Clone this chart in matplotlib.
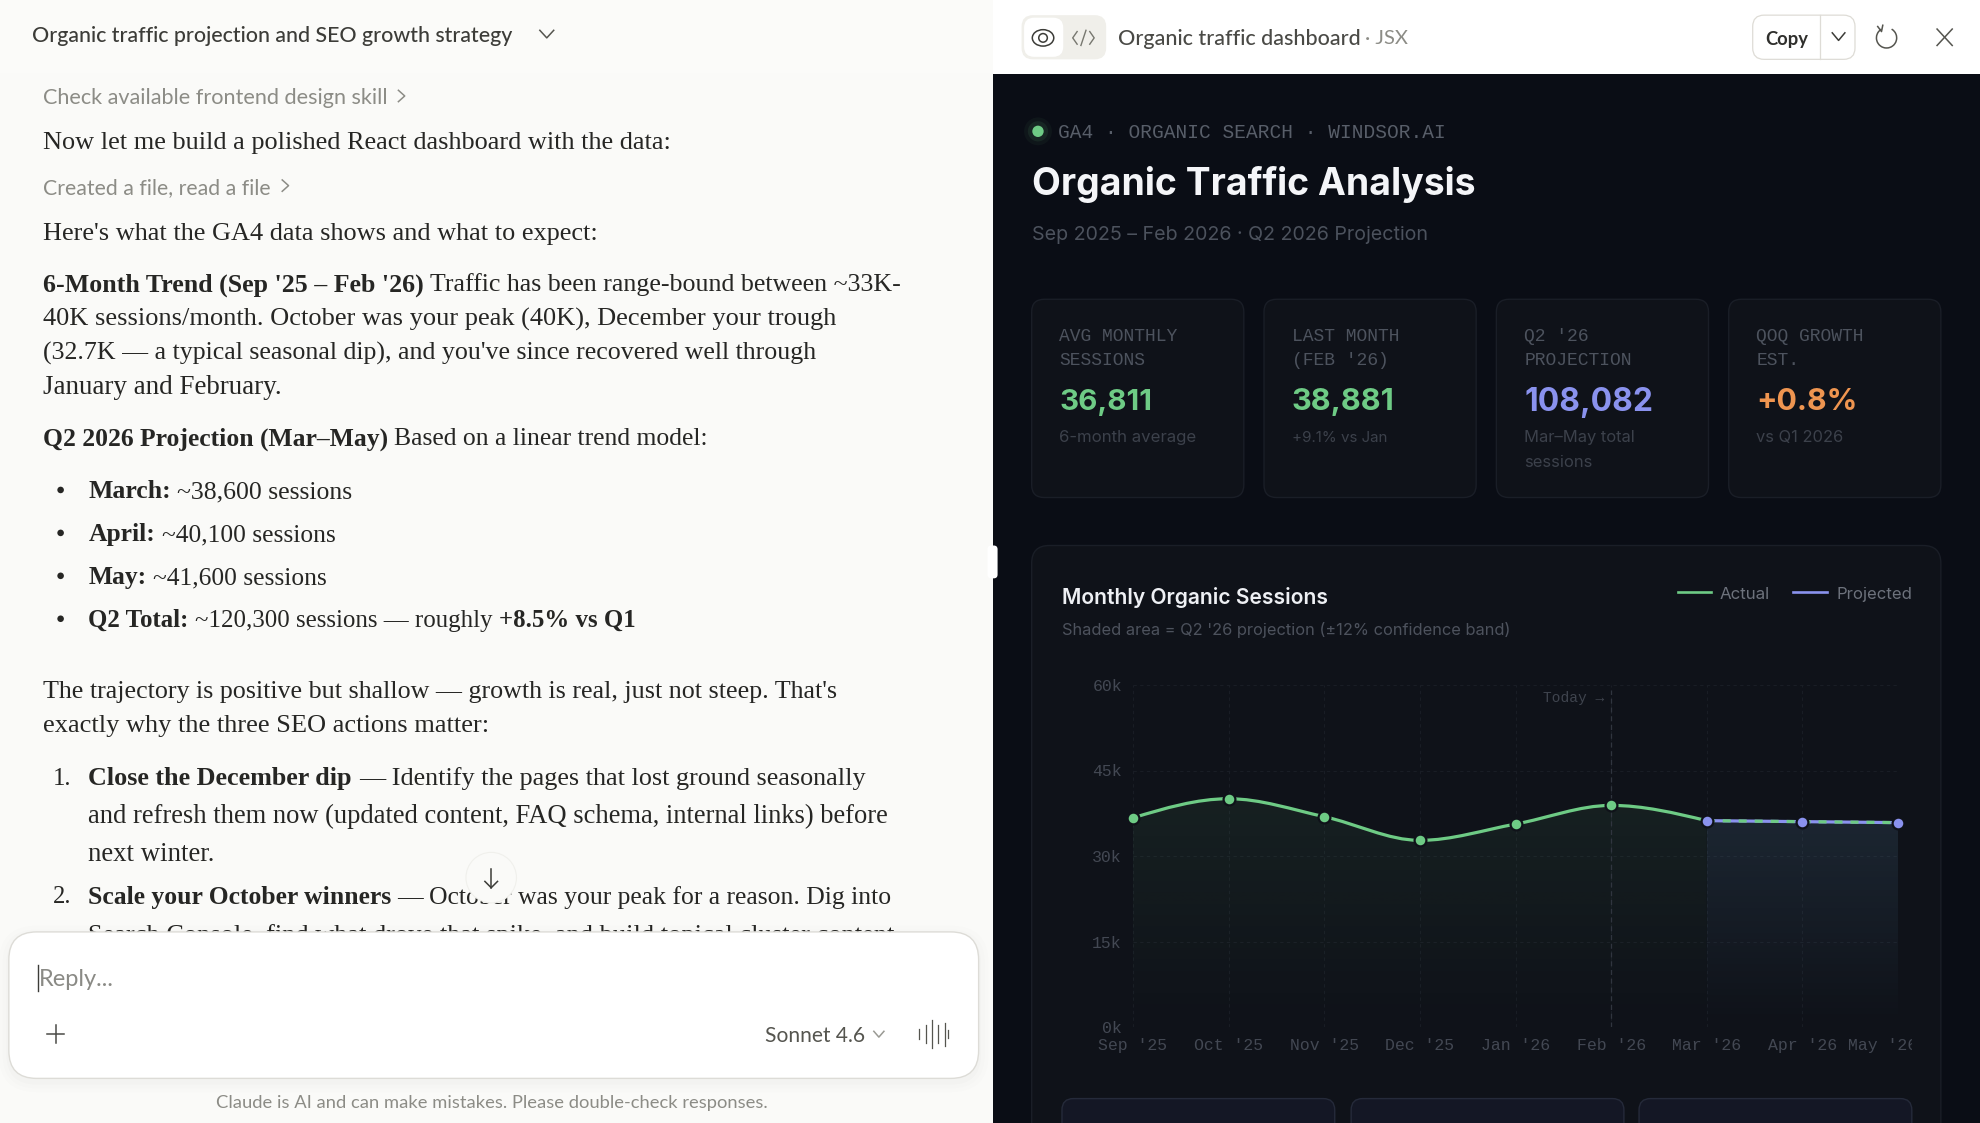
# === IMPORTS ===
import numpy as np
import matplotlib
matplotlib.use("Agg")
import matplotlib.pyplot as plt
from matplotlib.patches import FancyBboxPatch, Circle, Ellipse, Arc, Rectangle, PathPatch
from matplotlib.path import Path
from matplotlib.transforms import Bbox, ScaledTranslation

# === DATA ===
months = ["Sep '25", "Oct '25", "Nov '25", "Dec '25", "Jan '26", "Feb '26", "Mar '26", "Apr '26", "May '26"]
actual = [36700, 40050, 36900, 32740, 35600, 38881]
projected = [36200, 36027, 35855]
y_ticks = [0, 15000, 30000, 45000, 60000]
y_labels = ["0k", "15k", "30k", "45k", "60k"]

kpi_labels = [["AVG MONTHLY", "SESSIONS"], ["LAST MONTH", "(FEB '26)"], ["Q2 '26", "PROJECTION"], ["QOQ GROWTH", "EST."]]
kpi_values = ["36,811", "38,881", "108,082", "+0.8%"]
kpi_value_ends = [912, 1104, 1308, 1471]
kpi_notes = [["6-month average"], ["+9.1% vs Jan"], ["Mar–May total", "sessions"], ["vs Q1 2026"]]
kpi_note_ends = [[948], [1099], [1295, 1261], [1460]]
kpi_colors = ["#6ecb85", "#6ecb85", "#8a92ee", "#ef9550"]

# body copy: y, x, [(text, bold)...], right end
body_lines = [
    (111, 34, [("Now let me build a polished React dashboard with the data:", False)], 531),
    (183, 34, [("Here's what the GA4 data shows and what to expect:", False)], 473),
    (224, 34, [("6-Month Trend (Sep '25 – Feb '26)", True), ("Traffic has been range-bound between ~33K-", False)], 713),
    (251, 34, [("40K sessions/month. October was your peak (40K), December your trough", False)], 660),
    (278, 34, [("(32.7K — a typical seasonal dip), and you've since recovered well through", False)], 646),
    (305, 34, [("January and February.", False)], 223),
    (346, 34, [("Q2 2026 Projection (Mar–May)", True), ("Based on a linear trend model:", False)], 560),
    (388, 70, [("March:", True), ("~38,600 sessions", False)], 279),
    (422, 70, [("April:", True), ("~40,100 sessions", False)], 266),
    (456, 70, [("May:", True), ("~41,600 sessions", False)], 259),
    (490, 70, [("Q2 Total:", True), ("~120,300 sessions — roughly", False), ("+8.5% vs Q1", True)], 503),
    (546, 34, [("The trajectory is positive but shallow — growth is real, just not steep. That's", False)], 662),
    (573, 34, [("exactly why the three SEO actions matter:", False)], 386),
    (615, 70, [("Close the December dip", True), ("— Identify the pages that lost ground seasonally", False)], 686),
    (645, 70, [("and refresh them now (updated content, FAQ schema, internal links) before", False)], 704),
    (675, 70, [("next winter.", False)], 170),
    (709, 70, [("Scale your October winners", True), ("— October was your peak for a reason. Dig into", False)], 705),
    (739, 70, [("Search Console, find what drove that spike, and build topical cluster content", False)], 706),
]
bullet_rows = [388, 422, 456, 490]
number_rows = [(615, "1."), (709, "2.")]

# === STYLE ===
S = 1980 / 1568  # picture was measured at 1568 wide
SERIF = "Liberation Serif"
UI = "Lato"
DASH = "Inter"
MONO = ["Liberation Mono", "DejaVu Sans Mono"]
PANEL = "#0a0d15"
CARD = "#0f1219"
EDGE = "#1a1e27"
GREEN = "#6ecb85"
PURPLE = "#8a92ee"

fig = plt.figure(figsize=(19.8, 11.23), dpi=100)
ui = fig.add_axes([0, 0, 1, 1])
ui.set_xlim(0, 1568)
ui.set_ylim(1123 / S, 0)
ui.axis("off")
renderer = fig.canvas.get_renderer()


def pts(px):
    return px * S * 0.72


def put(x, y, parts, right=None, size=20, color="#2f2f2c", family=DASH, weight="normal", bold_weight="bold", zorder=5):
    """Write text runs on one line, centre y, scaled so the line ends at right."""
    if isinstance(parts, str):
        parts = [(parts, False)]
    items = [ui.text(x, y, s, family=family, fontsize=pts(size), color=color, va="baseline",
                     weight=bold_weight if b else weight, zorder=zorder) for s, b in parts]
    gap = 0.25
    widths = [t.get_window_extent(renderer).width / S for t in items]
    if right is not None:
        total = sum(widths) + gap * size * (len(items) - 1)
        size = size * (right - x) / total
        widths = [w * (right - x) / total for w in widths]
    nudge = 0.8 if family in (UI, DASH) else 0
    cur = x
    for t, w in zip(items, widths):
        t.set_fontsize(pts(size))
        t.set_position((cur, y + 0.33 * size + nudge))
        cur += w + gap * size
    return items


def box(x0, y0, x1, y1, r, face, edge="none", lw=1, zorder=2, alpha=None):
    p = FancyBboxPatch((x0, y0), x1 - x0, y1 - y0, boxstyle=f"round,pad=0,rounding_size={r}",
                       fc=face, ec=edge, lw=lw, zorder=zorder, alpha=alpha)
    ui.add_patch(p)
    return p


def chevron(x, y, w, h, color, lw=1.1, right=False, zorder=5):
    if right:
        ui.plot([x - h, x + h, x - h], [y - w, y, y + w], color=color, lw=lw, zorder=zorder)
    else:
        ui.plot([x - w, x, x + w], [y - h, y + h, y - h], color=color, lw=lw, zorder=zorder)


def monotone_path(xs, ys):
    """Bezier control points of a monotone curve through the points, as d3 does it."""
    xs = np.asarray(xs, float)
    ys = np.asarray(ys, float)
    h = np.diff(xs)
    s = np.diff(ys) / h
    m = np.zeros(len(xs))
    for i in range(1, len(xs) - 1):
        p = (s[i - 1] * h[i] + s[i] * h[i - 1]) / (h[i - 1] + h[i])
        m[i] = (np.sign(s[i - 1]) + np.sign(s[i])) * min(abs(s[i - 1]), abs(s[i]), 0.5 * abs(p))
    m[0] = (3 * s[0] - m[1]) / 2
    m[-1] = (3 * s[-1] - m[-2]) / 2
    verts = [(xs[0], ys[0])]
    codes = [Path.MOVETO]
    for i in range(len(h)):
        verts += [(xs[i] + h[i] / 3, ys[i] + m[i] * h[i] / 3),
                  (xs[i + 1] - h[i] / 3, ys[i + 1] - m[i + 1] * h[i] / 3),
                  (xs[i + 1], ys[i + 1])]
        codes += [Path.CURVE4] * 3
    return verts, codes


def area_under(ax, xs, ys, rgb, top_alpha):
    verts, codes = monotone_path(xs, ys)
    verts = verts + [(xs[-1], 0), (xs[0], 0), (xs[0], 0)]
    codes = codes + [Path.LINETO, Path.LINETO, Path.CLOSEPOLY]
    clip = PathPatch(Path(verts, codes), fc="none", ec="none", transform=ax.transData)
    ax.add_patch(clip)
    fade = np.zeros((256, 1, 4))
    fade[..., :3] = rgb
    fade[:, 0, 3] = np.linspace(top_alpha, 0, 256)
    img = ax.imshow(fade, extent=[xs[0], xs[-1], 0, max(ys)], aspect="auto", origin="upper", zorder=1)
    img.set_clip_path(clip)


# === LEFT PANEL ===
ui.add_patch(Rectangle((0, 0), 786, 890, fc="#fafaf8", ec="none", zorder=0))
ui.add_patch(Rectangle((0, 0), 786, 58, fc="#fbfbf9", ec="none", zorder=0.5))
put(25, 27, "Organic traffic projection and SEO growth strategy", right=406, color="#3c3c38", family=UI, weight="medium")
chevron(433, 27, 5.5, 3, "#55554f")
put(34, 76, "Check available frontend design skill", right=306, color="#8c8c86", family=UI)
chevron(318, 76, 4.5, 2.5, "#8c8c86", right=True)
put(34, 147, "Created a file, read a file", right=214, color="#8c8c86", family=UI)
chevron(226, 147, 4.5, 2.5, "#8c8c86", right=True)

for y, x, parts, right in body_lines:
    put(x, y, parts, right=right, size=21, color="#262624", family=SERIF)
for y in bullet_rows:
    ui.add_patch(Circle((48, y), 2.6, fc="#262624", ec="none", zorder=5))
for y, label in number_rows:
    put(42, y, label, size=19.5, color="#262624", family=SERIF)

# scroll button and reply box sit over the copy
ui.add_patch(Circle((389, 695), 20, fc="#fafaf8", ec="#f0f0ec", lw=0.8, zorder=6))
ui.plot([389, 389], [688, 703], color="#3c3c38", lw=1.1, zorder=7)
ui.plot([384, 389, 394], [698, 703, 698], color="#3c3c38", lw=1.1, zorder=7)
ui.add_patch(Rectangle((0, 745), 786, 145, fc="#fafaf8", ec="none", zorder=7.5))
for grow, a in [(8, 0.006), (5, 0.008), (2, 0.012)]:
    box(7 - grow, 738 - grow + 3, 775 + grow, 854 + grow + 3, 22 + grow, "#000000", zorder=8, alpha=a)
box(7, 738, 775, 854, 22, "#ffffff", "#dddcd7", 1, zorder=9)
ui.plot([30, 30], [764, 785], color="#3c3c38", lw=1, zorder=10)
put(31, 774, "Reply...", right=90, color="#8a8a85", family=UI, zorder=10)
ui.plot([37, 51], [819, 819], color="#4a4a46", lw=1.1, zorder=10)
ui.plot([44, 44], [812, 826], color="#4a4a46", lw=1.1, zorder=10)
put(606, 819, "Sonnet 4.6", right=685, color="#55554f", family=UI, zorder=10)
chevron(696, 819, 4, 2.3, "#9a9a94", zorder=10)
for dx, half in [(728, 4), (733, 7), (738, 11), (743, 7), (748, 9), (751, 3)]:
    ui.plot([dx, dx], [819 - half, 819 + half], color="#55554f", lw=0.9, zorder=10)
put(171, 872, "Claude is AI and can make mistakes. Please double-check responses.", right=607,
    color="#8c8c86", family=UI, zorder=10)

# === RIGHT HEADER ===
ui.add_patch(Rectangle((786, 0), 782, 58.5, fc="#ffffff", ec="none", zorder=1))
box(809, 12, 876, 47, 9, "#f0efea", zorder=2)
box(811, 14, 842, 45, 8, "#ffffff", zorder=3)
ui.add_patch(Ellipse((826, 30), 17, 13, fc="none", ec="#3c3c38", lw=1.1, zorder=4))
ui.add_patch(Circle((826, 30), 3.4, fc="none", ec="#3c3c38", lw=1.1, zorder=4))
ui.plot([853, 849.5, 853], [25, 30, 35], color="#77776f", lw=1, zorder=4)
ui.plot([863, 866.5, 863], [25, 30, 35], color="#77776f", lw=1, zorder=4)
ui.plot([856, 860], [36, 24], color="#77776f", lw=1, zorder=4)
put(885, 29, "Organic traffic dashboard", right=1077, color="#4a4a46", family=UI, weight="medium")
put(1081, 29, "· JSX", right=1115, color="#8c8c86", family=UI)
box(1388, 12, 1469, 47, 9, "#ffffff", "#dedcd6", 0.9, zorder=2)
ui.plot([1441, 1441], [12, 47], color="#dedcd6", lw=0.9, zorder=3)
put(1398, 30, "Copy", right=1432, color="#2f2f2c", family=UI, weight="bold")
chevron(1456, 29, 5, 3, "#3c3c38")
ui.add_patch(Arc((1494, 30), 16, 16, theta1=-60, theta2=240, color="#55554f", lw=1.1, zorder=4))
ui.plot([1487, 1490, 1491], [21, 25, 20], color="#55554f", lw=1.1, zorder=4)
ui.plot([1534, 1546], [23, 36], color="#55554f", lw=1.1, zorder=4)
ui.plot([1546, 1534], [23, 36], color="#55554f", lw=1.1, zorder=4)

# === DARK PANEL ===
ui.add_patch(Rectangle((786, 58.5), 782, 835, fc=PANEL, ec="none", zorder=1))
box(782, 432, 790, 458, 3, "#ffffff", zorder=4)
for r, a in [(11, 0.05), (8, 0.09)]:
    ui.add_patch(Circle((822, 104), r, fc=GREEN, ec="none", alpha=a, zorder=2))
ui.add_patch(Circle((822, 104), 4.5, fc=GREEN, ec="none", zorder=3))
put(838, 104, "GA4 · ORGANIC SEARCH · WINDSOR.AI", right=1144, color="#585e69", family=MONO)
put(817, 144, "Organic Traffic Analysis", right=1169, color="#f4f5f8", family=DASH, weight="bold")
put(817, 184, "Sep 2025 – Feb 2026 · Q2 2026 Projection", right=1131, color="#4c525d", family=DASH)

for i in range(4):
    x0 = 817 + 184 * i
    box(x0, 237, x0 + 168, 394, 10, CARD, EDGE, 1, zorder=2)
    tx = x0 + 22
    for row, s in enumerate(kpi_labels[i]):
        put(tx, 265 + 19 * row, s, right=tx + 8.55 * len(s), color="#4d535e", family=MONO)
    put(tx, 316, kpi_values[i], right=kpi_value_ends[i], color=kpi_colors[i], family=DASH, weight="bold")
    for row, s in enumerate(kpi_notes[i]):
        put(tx, 345 + 20 * row, s, right=kpi_note_ends[i][row], color="#3c414b", family=DASH)

# chart card, runs off the bottom of the screen
box(817, 432, 1537, 930, 14, CARD, EDGE, 1, zorder=2)
put(841, 472, "Monthly Organic Sessions", right=1052, color="#eef0f4", family=DASH, weight="semibold")
put(841, 498, "Shaded area = Q2 '26 projection (±12% confidence band)", right=1196, color="#4d525d", family=DASH)
ui.plot([1329, 1355], [469, 469], color=GREEN, lw=1.9, zorder=4)
put(1362, 469, "Actual", right=1402, color="#6d727c", family=DASH)
ui.plot([1420, 1447], [469, 469], color=PURPLE, lw=1.9, zorder=4)
put(1454, 469, "Projected", right=1514, color="#6d727c", family=DASH)
for x0 in [841, 1070, 1298]:
    box(x0, 870, x0 + 216, 930, 9, "#141725", "#252a3a", 1, zorder=3)

# === CHART ===
ax = fig.add_axes([1133 / 1980, 1 - 1027 / 1123, (1898 - 1133) / 1980, (1027 - 685) / 1123])
ax.patch.set_alpha(0)
for spine in ax.spines.values():
    spine.set_visible(False)

x_actual = list(range(len(actual) + 1))
y_actual = actual + [projected[0]]
x_proj = list(range(len(actual), len(months)))

area_under(ax, x_actual, y_actual, (0.43, 0.80, 0.52), 0.08)
area_under(ax, x_proj, projected, (0.45, 0.68, 0.85), 0.13)

ax.set_xlim(0, len(months) - 1)
ax.set_ylim(0, 60000)
ax.set_xticks(range(len(months)))
ax.set_xticklabels(months)
ax.set_yticks(y_ticks)
ax.set_yticklabels(y_labels)
ax.grid(True, color="#191d25", lw=0.8, ls=(0, (3, 3)), zorder=0)
ax.set_axisbelow(True)
ax.tick_params(length=0, colors="#434853")
ax.tick_params(axis="x", pad=8)
ax.tick_params(axis="y", pad=8)
for label in ax.get_xticklabels() + ax.get_yticklabels():
    label.set_family(MONO)
    label.set_fontsize(pts(13.1))
# last label is pushed in from the edge and cut off by the svg box
may = ax.get_xticklabels()[-1]
may.set_transform(may.get_transform() + ScaledTranslation(-15 / 100, 0, fig.dpi_scale_trans))
may.set_clip_box(Bbox.from_extents(0, 0, 1912, 1123))
may.set_clip_on(True)

today = len(actual) - 1
ax.axvline(today, color="#30353f", lw=0.9, ls=(0, (4, 3)), ymax=0.985, zorder=2)
ax.annotate("Today →", (today, 57800), xytext=(-5, 0), textcoords="offset points", ha="right", va="center",
            family=MONO, fontsize=pts(11.5), color="#3f444e")

p_verts, p_codes = monotone_path(x_proj, projected)
ax.add_patch(PathPatch(Path(p_verts, p_codes), fc="none", ec=PURPLE, lw=2.3, zorder=3))
ax.add_patch(PathPatch(Path(p_verts, p_codes), fc="none", ec=GREEN, lw=2.3, ls=(0, (2.5, 2.5)), zorder=3.1))
a_verts, a_codes = monotone_path(x_actual, y_actual)
ax.add_patch(PathPatch(Path(a_verts, a_codes), fc="none", ec=GREEN, lw=2.3, zorder=3.2))
ax.plot(range(len(actual)), actual, ls="none", marker="o", ms=8.5, mfc=GREEN, mec=CARD, mew=1.6,
        clip_on=False, zorder=4)
ax.plot(x_proj, projected, ls="none", marker="o", ms=8.5, mfc=PURPLE, mec=CARD, mew=1.6,
        clip_on=False, zorder=4)

fig.savefig("out.png", dpi=100, facecolor="#fafaf8")
